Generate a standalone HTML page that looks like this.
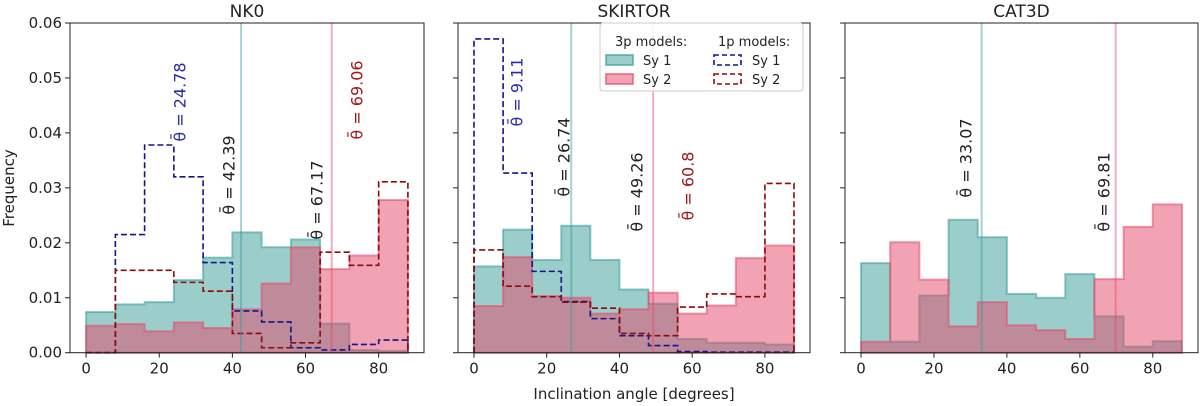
<!DOCTYPE html>
<html><head><meta charset="utf-8"><style>
body{margin:0;background:#fff;}
svg{display:block;font-family:"DejaVu Sans","Liberation Sans",sans-serif;}
</style></head><body>
<svg id="chart" width="1200" height="406" viewBox="0 0 1200 406"></svg>
<script>
const binEdges=[0,8,16,24,32,40,48,56,64,72,80,88];
const panelTitles=["NK0","SKIRTOR","CAT3D"];
const nk0Sy1=[0.0074,0.0088,0.0092,0.0132,0.0173,0.0219,0.0192,0.0206,0.0053,0.0005,0.0003];
const nk0Sy2=[0.0049,0.0052,0.0039,0.0055,0.0045,0.0079,0.0126,0.0192,0.0152,0.0177,0.0278];
const nk0Sy1p=[0,0.0215,0.0378,0.032,0.0164,0.0076,0.0056,0.0009,0.0005,0.0015,0.0023];
const nk0Sy2p=[0,0.015,0.015,0.0128,0.0112,0.0035,0.0009,0.0018,0.0183,0.0159,0.0311];
const skSy1=[0.0157,0.0224,0.0169,0.0231,0.0169,0.0115,0.0089,0.0025,0.0018,0.0018,0.0015];
const skSy2=[0.0085,0.0174,0.0103,0.01,0.0071,0.0079,0.0109,0.0071,0.0086,0.0172,0.0195];
const skSy1p=[0.0571,0.0327,0.0148,0.0093,0.0062,0.0031,0.0013,0.0002,0.0001,0.0001,0.0001];
const skSy2p=[0.0187,0.0121,0.0102,0.0092,0.0081,0.0035,0.0031,0.0083,0.0107,0.0102,0.0308];
const catSy1=[0.0163,0.002,0.0104,0.0242,0.021,0.0107,0.01,0.0143,0.0066,0.0011,0.0021];
const catSy2=[0.002,0.0201,0.0133,0.0048,0.0092,0.005,0.0041,0.0025,0.0134,0.0229,0.027];
const meansSy1=[42.39,26.74,33.07];
const meansSy2=[67.17,49.26,69.81];
const meansSy1p=[24.78,9.11,null];
const meansSy2p=[69.06,60.8,null];
const yTicks=[0,0.01,0.02,0.03,0.04,0.05,0.06];
const xTicks=[0,20,40,60,80];

const NS="http://www.w3.org/2000/svg";
const svg=document.getElementById('chart');
function mk(tag,attrs,parent){const e=document.createElementNS(NS,tag);for(const k in attrs)e.setAttribute(k,attrs[k]);(parent||svg).appendChild(e);return e;}
const panels=[{l:70,r:424},{l:458,r:810},{l:845,r:1198}];
const axTop=23,axBot=352.7;
const xmin=-4.4,xmax=92.4,ymax=0.06;
const sy=v=>axBot-v/ymax*(axBot-axTop);
const data=[[nk0Sy1,nk0Sy2,nk0Sy1p,nk0Sy2p],[skSy1,skSy2,skSy1p,skSy2p],[catSy1,catSy2,null,null]];
const labelPos=[
 {s1:[229,175],s2:[317,200],p1:[180,102],p2:[357,100]},
 {s1:[564,157],s2:[637,192],p1:[517,92],p2:[688,186]},
 {s1:[966,158],s2:[1104,192]}
];
panels.forEach((p,i)=>{
  const sx=v=>p.l+(v-xmin)/(xmax-xmin)*(p.r-p.l);
  const g=mk('g',{});
  
  
  function stepPath(vals,closed){
    let d='M'+sx(binEdges[0])+','+sy(0);
    vals.forEach((v,k)=>{d+=' L'+sx(binEdges[k])+','+sy(v)+' L'+sx(binEdges[k+1])+','+sy(v);});
    d+=' L'+sx(binEdges[binEdges.length-1])+','+sy(0);
    if(closed)d+=' Z';
    return d;
  }
  const [a,b,c,d]=data[i];
  const f1=mk('path',{d:stepPath(a,true),fill:'rgba(55,155,152,0.5)',stroke:'rgba(55,155,152,0.55)','stroke-width':2},g);
  
  
  const f2=mk('path',{d:stepPath(b,true),fill:'rgba(228,72,105,0.5)',stroke:'rgba(228,72,105,0.55)','stroke-width':2},g);
  
  
  if(c){
    const l1=mk('path',{d:stepPath(c,false),fill:'none',stroke:'#14148c','stroke-width':1.6,'stroke-dasharray':'6,3'},g);
    
    
    const l2=mk('path',{d:stepPath(d,false),fill:'none',stroke:'#8b0a0a','stroke-width':1.6,'stroke-dasharray':'6,3'},g);
    
    
  }
  const m1=mk('line',{x1:sx(meansSy1[i]),x2:sx(meansSy1[i]),y1:axTop,y2:axBot,stroke:'rgba(55,155,152,0.45)','stroke-width':2},g);
  
  
  const m2=mk('line',{x1:sx(meansSy2[i]),x2:sx(meansSy2[i]),y1:axTop,y2:axBot,stroke:'rgba(228,72,105,0.45)','stroke-width':2},g);
  
  
  const lp=labelPos[i];
  function lab(pos,val,color,name){
    const t=mk('text',{x:pos[0],y:pos[1],transform:'rotate(-90 '+pos[0]+' '+pos[1]+')','text-anchor':'middle','dominant-baseline':'central','font-size':16,fill:color},g);
    t.textContent='\u03B8\u0304 = '+val;
    
    
  }
  lab(lp.s1,meansSy1[i],'#222','mean-label-sy1');
  lab(lp.s2,meansSy2[i],'#222','mean-label-sy2');
  if(meansSy1p[i]!==null){lab(lp.p1,meansSy1p[i],'#2a2aa8','mean-label-sy1-1p');lab(lp.p2,meansSy2p[i],'#a01818','mean-label-sy2-1p');}
  const fr=mk('rect',{x:p.l,y:axTop,width:p.r-p.l,height:axBot-axTop,fill:'none',stroke:'#222','stroke-width':1},g);
  
  
  xTicks.forEach(t=>{
    mk('line',{x1:sx(t),x2:sx(t),y1:axBot,y2:axBot+5,stroke:'#222'},g);
    const tx=mk('text',{x:sx(t),y:axBot+21,'text-anchor':'middle','font-size':15,fill:'#222'},g);
    tx.textContent=t;
    
    
  });
  yTicks.forEach(t=>{
    mk('line',{x1:p.l-5,x2:p.l,y1:sy(t),y2:sy(t),stroke:'#222'},g);
    if(i===0){
      const ty=mk('text',{x:p.l-8,y:sy(t)+5,'text-anchor':'end','font-size':15,fill:'#222'},g);
      ty.textContent=t.toFixed(2);
      
      
    }
  });
  const ti=mk('text',{x:(p.l+p.r)/2,y:17,'text-anchor':'middle','font-size':17,fill:'#222'},g);
  ti.textContent=panelTitles[i];
  
  
});
const yl=mk('text',{x:14,y:188,transform:'rotate(-90 14 188)','text-anchor':'middle','font-size':15,fill:'#222'});
yl.textContent='Frequency';


const xl=mk('text',{x:634,y:399,'text-anchor':'middle','font-size':15,fill:'#222'});
xl.textContent='Inclination angle [degrees]';


const lg=mk('g',{});


mk('rect',{x:600,y:23,width:203,height:68,rx:3,fill:'rgba(255,255,255,0.85)',stroke:'#ccc'},lg);
function lt(x,y,s,name){const t=mk('text',{x:x,y:y,'font-size':13,fill:'#222'},lg);t.textContent=s;}
lt(615,46,'3p models:','legend-title-3p');
lt(718,46,'1p models:','legend-title-1p');
mk('rect',{x:606,y:55,width:27,height:10,fill:'rgba(55,155,152,0.5)',stroke:'rgba(55,155,152,0.6)','stroke-width':2},lg);
mk('rect',{x:606,y:74,width:27,height:10,fill:'rgba(228,72,105,0.5)',stroke:'rgba(228,72,105,0.6)','stroke-width':2},lg);
mk('rect',{x:714,y:55,width:27,height:10,fill:'none',stroke:'#14148c','stroke-width':1.6,'stroke-dasharray':'5,3'},lg);
mk('rect',{x:714,y:74,width:27,height:10,fill:'none',stroke:'#8b0a0a','stroke-width':1.6,'stroke-dasharray':'5,3'},lg);
lt(643,65,'Sy 1','legend-entry-sy1-3p');
lt(643,84,'Sy 2','legend-entry-sy2-3p');
lt(752,65,'Sy 1','legend-entry-sy1-1p');
lt(752,84,'Sy 2','legend-entry-sy2-1p');
</script>
</body></html>
